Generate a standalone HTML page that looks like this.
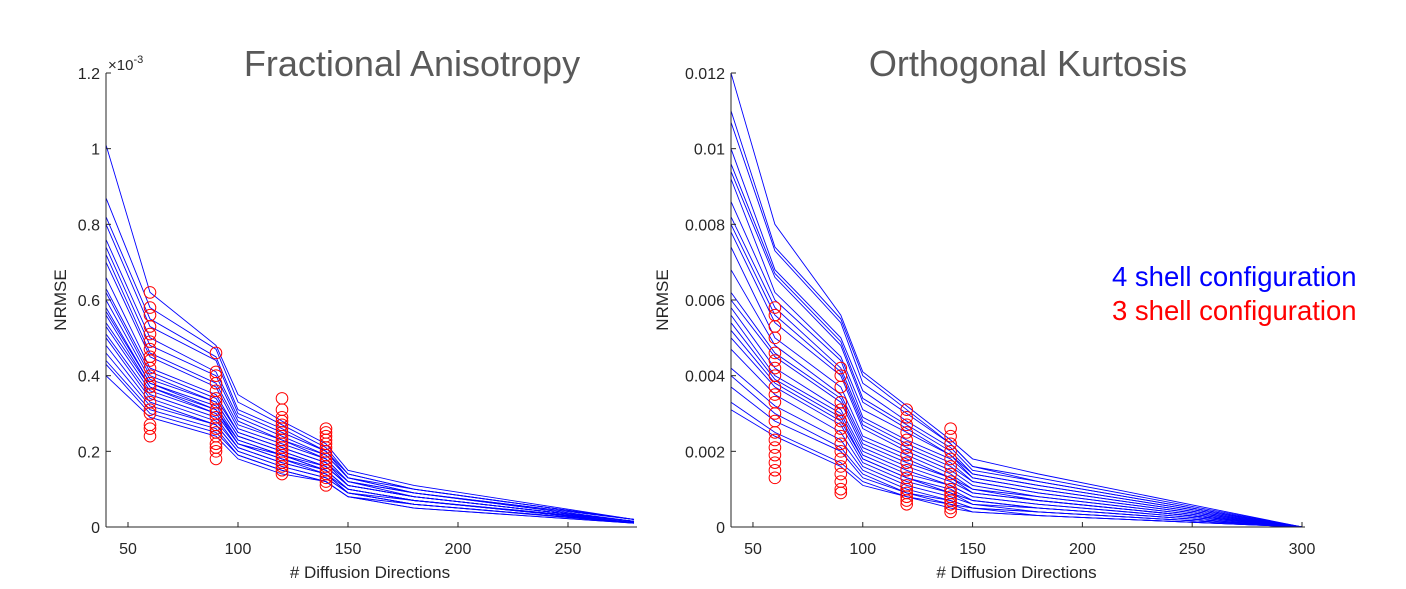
<!DOCTYPE html>
<html><head><meta charset="utf-8"><style>
html,body{margin:0;padding:0;background:#fff;}
svg{display:block;font-family:"Liberation Sans",sans-serif;}
</style></head><body>
<svg id="chart" width="1406" height="589" viewBox="0 0 1406 589">
<text x="412" y="76" font-size="36" fill="#595959" text-anchor="middle">Fractional Anisotropy</text>
<text x="1028" y="76" font-size="36" fill="#595959" text-anchor="middle">Orthogonal Kurtosis</text>
<text x="1112" y="286" font-size="27.5" fill="#0000ff">4 shell configuration</text>
<text x="1112" y="320" font-size="27.5" fill="#ff0000">3 shell configuration</text>
<text x="108" y="70" font-size="15" fill="#262626">×10<tspan dy="-7" font-size="11">-3</tspan></text>
</svg>
<script>
const xPts = [40,60,90,100,120,140,150,180];
const faEnd = 280, okEnd = 300;
const faSeries = [
[1.01,0.62,0.48,0.35,0.28,0.22,0.15,0.11,0.02],
[0.87,0.58,0.47,0.33,0.27,0.21,0.14,0.10,0.02],
[0.82,0.55,0.45,0.31,0.26,0.20,0.14,0.10,0.02],
[0.80,0.53,0.44,0.30,0.25,0.20,0.13,0.10,0.02],
[0.76,0.50,0.41,0.29,0.24,0.19,0.13,0.09,0.02],
[0.74,0.48,0.40,0.28,0.23,0.19,0.13,0.09,0.02],
[0.72,0.46,0.38,0.27,0.23,0.18,0.12,0.09,0.015],
[0.70,0.45,0.37,0.26,0.22,0.18,0.12,0.09,0.015],
[0.66,0.42,0.35,0.25,0.21,0.17,0.12,0.08,0.015],
[0.63,0.41,0.34,0.25,0.21,0.17,0.11,0.08,0.015],
[0.62,0.40,0.33,0.24,0.20,0.16,0.11,0.08,0.015],
[0.60,0.39,0.33,0.24,0.20,0.16,0.11,0.08,0.015],
[0.58,0.38,0.32,0.23,0.19,0.16,0.11,0.08,0.015],
[0.57,0.38,0.31,0.23,0.19,0.15,0.10,0.07,0.015],
[0.56,0.37,0.31,0.22,0.19,0.15,0.10,0.07,0.015],
[0.54,0.37,0.30,0.22,0.18,0.15,0.10,0.07,0.012],
[0.53,0.36,0.30,0.22,0.18,0.14,0.10,0.07,0.012],
[0.51,0.35,0.29,0.21,0.17,0.14,0.09,0.07,0.012],
[0.50,0.34,0.28,0.21,0.17,0.14,0.09,0.06,0.012],
[0.48,0.33,0.27,0.20,0.16,0.13,0.09,0.06,0.012],
[0.46,0.32,0.27,0.20,0.16,0.13,0.09,0.06,0.012],
[0.44,0.31,0.26,0.19,0.15,0.12,0.08,0.06,0.010],
[0.43,0.30,0.25,0.19,0.15,0.12,0.08,0.05,0.010],
[0.40,0.29,0.24,0.18,0.14,0.12,0.08,0.05,0.010]
];
const faCircleX = [60,90,120,140];
const faCircles = [
[0.62,0.58,0.56,0.53,0.51,0.49,0.47,0.45,0.44,0.42,0.40,0.38,0.37,0.35,0.33,0.31,0.30,0.27,0.26,0.24],
[0.46,0.41,0.40,0.38,0.36,0.34,0.33,0.31,0.30,0.29,0.27,0.26,0.25,0.24,0.22,0.21,0.20,0.18],
[0.34,0.31,0.29,0.28,0.27,0.26,0.25,0.24,0.23,0.22,0.21,0.20,0.19,0.18,0.17,0.16,0.15,0.14],
[0.26,0.25,0.24,0.23,0.22,0.21,0.20,0.19,0.18,0.17,0.16,0.15,0.14,0.13,0.12,0.11]
];
const faYTicks = [0,0.2,0.4,0.6,0.8,1,1.2];
const faYLabels = ["0","0.2","0.4","0.6","0.8","1","1.2"];
const faXTicks = [50,100,150,200,250];

const okSeries = [
[12.0,8.0,5.6,4.1,3.2,2.3,1.8,1.4,0],
[11.0,7.4,5.5,4.0,3.1,2.2,1.6,1.3,0],
[10.7,7.3,5.4,3.8,3.0,2.2,1.6,1.2,0],
[10.0,6.8,5.0,3.6,2.8,2.1,1.5,1.2,0],
[9.6,6.7,4.9,3.4,2.7,2.0,1.4,1.1,0],
[9.4,6.6,4.8,3.3,2.6,1.9,1.4,1.1,0],
[9.2,6.2,4.5,3.1,2.5,1.9,1.3,1.0,0],
[8.6,6.0,4.4,2.9,2.3,1.8,1.3,1.0,0],
[8.2,5.8,4.2,2.8,2.2,1.7,1.2,0.9,0],
[8.0,5.6,4.1,2.7,2.1,1.6,1.2,0.9,0],
[7.8,5.4,4.0,2.6,2.0,1.5,1.1,0.8,0],
[7.4,5.0,3.7,2.4,1.9,1.4,1.0,0.8,0],
[6.8,4.8,3.5,2.3,1.8,1.3,1.0,0.7,0],
[6.2,4.6,3.4,2.2,1.7,1.3,0.9,0.7,0],
[6.0,4.5,3.3,2.1,1.6,1.2,0.9,0.7,0],
[5.8,4.2,3.1,2.0,1.5,1.1,0.8,0.6,0],
[5.6,4.0,3.0,1.9,1.4,1.1,0.8,0.6,0],
[5.4,3.9,2.9,1.8,1.3,1.0,0.7,0.5,0],
[5.2,3.8,2.8,1.8,1.3,0.9,0.7,0.5,0],
[5.0,3.7,2.7,1.7,1.2,0.9,0.6,0.5,0],
[4.7,3.5,2.5,1.6,1.1,0.8,0.6,0.4,0],
[4.2,3.2,2.3,1.5,1.0,0.7,0.5,0.4,0],
[4.0,3.0,2.1,1.4,0.9,0.7,0.5,0.4,0],
[3.7,2.8,2.0,1.3,0.9,0.6,0.5,0.3,0],
[3.3,2.5,1.7,1.2,0.8,0.6,0.4,0.3,0],
[3.1,2.4,1.6,1.1,0.8,0.5,0.4,0.3,0]
];
const okCircleX = [60,90,120,140];
const okCircles = [
[5.8,5.6,5.3,5.0,4.6,4.4,4.2,4.0,3.7,3.5,3.3,3.0,2.8,2.5,2.3,2.1,1.9,1.7,1.5,1.3],
[4.2,4.0,3.7,3.3,3.1,3.0,2.8,2.6,2.4,2.2,2.0,1.8,1.6,1.4,1.2,1.0,0.9],
[3.1,2.9,2.7,2.5,2.3,2.1,1.9,1.7,1.5,1.3,1.1,1.0,0.9,0.8,0.7,0.6],
[2.6,2.4,2.2,2.0,1.8,1.6,1.4,1.2,1.0,0.9,0.8,0.7,0.6,0.5,0.4]
];
const okYTicks = [0,2,4,6,8,10,12];
const okYLabels = ["0","0.002","0.004","0.006","0.008","0.01","0.012"];
const okXTicks = [50,100,150,200,250,300];

const NS = "http://www.w3.org/2000/svg";
const svg = document.getElementById('chart');
function mk(tag, attrs, parent){
  const e = document.createElementNS(NS, tag);
  for (const k in attrs) e.setAttribute(k, attrs[k]);
  (parent||svg).appendChild(e); return e;
}
function drawPanel(p){
  const sx = v => p.x0 + (v - p.xmin) / (p.xmax - p.xmin) * (p.x1 - p.x0);
  const sy = v => p.y0 - (v - p.ymin) / (p.ymax - p.ymin) * (p.y0 - p.y1);
  const g = mk('g', {});
  
  
  const xs = p.xPts.concat([p.xEnd]);
  p.series.forEach((s, i) => {
    const pts = s.map((v, j) => sx(xs[j]).toFixed(1) + ',' + sy(v).toFixed(1)).join(' ');
    const pl = mk('polyline', {points: pts, fill: 'none', stroke: '#0000ff', 'stroke-width': 0.9}, g);
    
    
  });
  p.circles.forEach((col, i) => {
    col.forEach((v, j) => {
      const c = mk('circle', {cx: sx(p.circleX[i]), cy: sy(v), r: 5.8, fill: 'none', stroke: '#ff0000', 'stroke-width': 1}, g);
      
      
    });
  });
  const ax = mk('g', {});
  
  
  mk('line', {x1: p.x0, y1: p.y1, x2: p.x0, y2: p.y0, stroke: '#262626', 'stroke-width': 1}, ax);
  mk('line', {x1: p.x0, y1: p.y0, x2: p.x1 + 3, y2: p.y0, stroke: '#262626', 'stroke-width': 1}, ax);
  p.yTicks.forEach((v, i) => {
    mk('line', {x1: p.x0, y1: sy(v), x2: p.x0 + 5, y2: sy(v), stroke: '#262626'}, ax);
    const t = mk('text', {x: p.x0 - 6, y: sy(v) + 6, 'font-size': 16, fill: '#262626', 'text-anchor': 'end'}, ax);
    t.textContent = p.yLabels[i];
    
    
  });
  p.xTicks.forEach(v => {
    mk('line', {x1: sx(v), y1: p.y0, x2: sx(v), y2: p.y0 - 5, stroke: '#262626'}, ax);
    const t = mk('text', {x: sx(v), y: p.y0 + 27, 'font-size': 16, fill: '#262626', 'text-anchor': 'middle'}, ax);
    t.textContent = String(v);
    
    
  });
  const xl = mk('text', {x: (p.x0 + p.x1) / 2, y: p.y0 + 51, 'font-size': 17, fill: '#262626', 'text-anchor': 'middle'}, ax);
  xl.textContent = '# Diffusion Directions';
  
  
  const yl = mk('text', {x: 0, y: 0, 'font-size': 17, fill: '#262626', 'text-anchor': 'middle', transform: 'translate(' + p.yTitleX + ',' + ((p.y0 + p.y1) / 2) + ') rotate(-90)'}, ax);
  yl.textContent = 'NRMSE';
  
  
}
drawPanel({name: 'fa', x0: 106, x1: 634, y0: 527, y1: 73, xmin: 40, xmax: 280, ymin: 0, ymax: 1.2,
  xPts: xPts, xEnd: faEnd, series: faSeries, circleX: faCircleX, circles: faCircles,
  yTicks: faYTicks, yLabels: faYLabels, xTicks: faXTicks, yTitleX: 66});
drawPanel({name: 'ok', x0: 731, x1: 1302, y0: 527, y1: 73, xmin: 40, xmax: 300, ymin: 0, ymax: 12,
  xPts: xPts, xEnd: okEnd, series: okSeries, circleX: okCircleX, circles: okCircles,
  yTicks: okYTicks, yLabels: okYLabels, xTicks: okXTicks, yTitleX: 668});
</script>
</body></html>
